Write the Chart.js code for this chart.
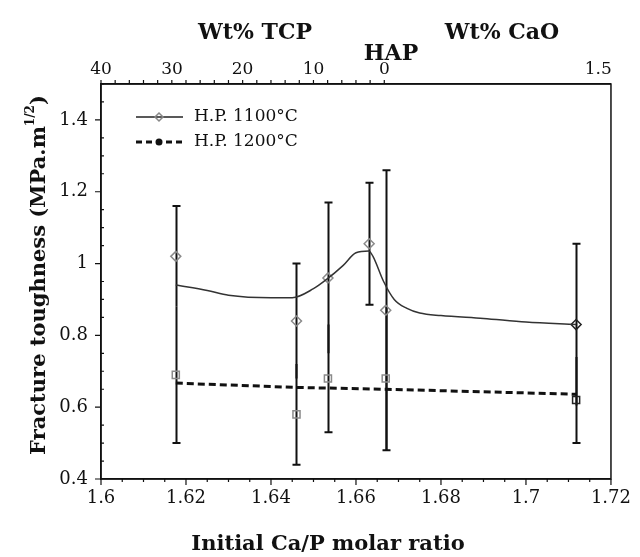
<!DOCTYPE html>
<html>
<head>
<meta charset="utf-8">
<script src="https://cdn.jsdelivr.net/npm/chart.js@4.4.1/dist/chart.umd.min.js"></script>
<style>
  html, body { margin: 0; padding: 0; background: #ffffff; }
  #wrap { width: 640px; height: 557px; }
</style>
</head>
<body>
<div id="wrap"><canvas id="chart" width="640" height="557"></canvas></div>
<script>
'use strict';

// measured points, H.P. 1100 C
var x1100 = [1.6176, 1.646, 1.6534, 1.6631, 1.667, 1.7118];
var y1100 = [1.02, 0.84, 0.96, 1.055, 0.87, 0.83];
var err1100 = [0.14, 0.16, 0.21, 0.17, 0.39, 0.225];

// measured points, H.P. 1200 C
var x1200 = [1.6176, 1.646, 1.6534, 1.667, 1.7118];
var y1200 = [0.69, 0.58, 0.68, 0.68, 0.62];
var err1200 = [0.19, 0.14, 0.15, 0.2, 0.12];

// trend curves
var fit1100X = [1.6176, 1.625, 1.63, 1.64, 1.645, 1.65, 1.653, 1.657, 1.66, 1.663, 1.664, 1.6665, 1.669, 1.672, 1.675, 1.68, 1.69, 1.70, 1.7118];
var fit1100Y = [0.94, 0.925, 0.912, 0.905, 0.905, 0.93, 0.955, 0.995, 1.03, 1.035, 1.02, 0.95, 0.9, 0.875, 0.862, 0.855, 0.847, 0.837, 0.83];
var fit1200X = [1.6176, 1.646, 1.667, 1.7118];
var fit1200Y = [0.667, 0.655, 0.65, 0.636];

// axes
var xTickValues = [1.6, 1.62, 1.64, 1.66, 1.68, 1.7, 1.72];
var yTickValues = [0.4, 0.6, 0.8, 1, 1.2, 1.4];
var topTickValues = [1.6, 1.6167, 1.6333, 1.65, 1.6667, 1.717];
var topTickLabels = ['40', '30', '20', '10', '0', '1.5'];
var topMinorFrom = 1.6, topMinorTo = 1.6667, topMinorStep = 0.003333;

var INK = '#111111';
var SERIF = '"DejaVu Serif", "Liberation Serif", serif';

function pts(xs, ys) {
  return xs.map(function (x, i) { return { x: x, y: ys[i] }; });
}

function fmt(v) {
  return String(Number(v.toFixed(4)));
}

var decorPlugin = {
  id: 'decor',
  beforeDatasetsDraw: function (chart) {
    var c = chart.ctx, sx = chart.scales.x, sy = chart.scales.y;
    c.save();
    c.strokeStyle = INK;
    c.lineWidth = 2;
    function cap(px, py) { c.moveTo(px - 4, py); c.lineTo(px + 4, py); }
    // 1100 bars: cap on top, bottom cap only where no 1200 bar shares the x
    x1100.forEach(function (x, i) {
      var px = Math.round(sx.getPixelForValue(x)) + 0.5;
      var top = sy.getPixelForValue(y1100[i] + err1100[i]);
      var bot = sy.getPixelForValue(y1100[i] - err1100[i]);
      c.beginPath();
      c.moveTo(px, top); c.lineTo(px, bot);
      cap(px, top);
      if (x1200.indexOf(x) < 0) cap(px, bot);
      c.stroke();
    });
    x1200.forEach(function (x, i) {
      var px = Math.round(sx.getPixelForValue(x)) + 0.5;
      var top = sy.getPixelForValue(y1200[i] + err1200[i]);
      var bot = sy.getPixelForValue(y1200[i] - err1200[i]);
      c.beginPath();
      c.moveTo(px, top); c.lineTo(px, bot);
      cap(px, bot);
      if (x1100.indexOf(x) < 0) cap(px, top);
      c.stroke();
    });
    c.restore();
  },
  afterDraw: function (chart) {
    var c = chart.ctx, a = chart.chartArea;
    var sx = chart.scales.x, sy = chart.scales.y;
    c.save();
    c.strokeStyle = INK;
    c.lineWidth = 1.5;
    c.strokeRect(a.left, a.top, a.right - a.left, a.bottom - a.top);

    // bottom ticks
    c.lineWidth = 1.2;
    c.beginPath();
    for (var v = 1.6; v <= 1.7201; v += 0.005) {
      var px = sx.getPixelForValue(v);
      var major = Math.abs(v * 50 - Math.round(v * 50)) < 0.01;
      c.moveTo(px, a.bottom); c.lineTo(px, a.bottom + (major ? 6 : 3));
    }
    // left ticks
    for (var w = 0.4; w <= 1.5001; w += 0.05) {
      var py = sy.getPixelForValue(w);
      var maj = Math.abs(w * 5 - Math.round(w * 5)) < 0.01;
      if (maj) { c.moveTo(a.left, py); c.lineTo(a.left - 6, py); }
      else { c.moveTo(a.left, py); c.lineTo(a.left + 3, py); }
    }
    // top ticks (wt% TCP)
    for (var t = topMinorFrom; t <= topMinorTo + 0.0001; t += topMinorStep) {
      var tx = sx.getPixelForValue(t);
      c.moveTo(tx, a.top); c.lineTo(tx, a.top - 4);
    }
    c.stroke();

    // legend
    c.lineWidth = 1.5;
    c.strokeStyle = '#222';
    c.beginPath(); c.moveTo(136, 117); c.lineTo(183, 117); c.stroke();
    c.strokeStyle = '#888';
    c.beginPath();
    c.moveTo(159, 113); c.lineTo(163, 117); c.lineTo(159, 121); c.lineTo(155, 117); c.closePath();
    c.stroke();
    c.strokeStyle = INK;
    c.lineWidth = 3;
    c.setLineDash([6, 4]);
    c.beginPath(); c.moveTo(136, 142); c.lineTo(185, 142); c.stroke();
    c.setLineDash([]);
    c.fillStyle = INK;
    c.beginPath(); c.arc(159, 142, 3.5, 0, Math.PI * 2); c.fill();

    c.fillStyle = INK;
    c.font = '17px ' + SERIF;
    c.textAlign = 'left';
    c.textBaseline = 'middle';
    c.fillText('H.P. 1100\u00b0C', 194, 117);
    c.fillText('H.P. 1200\u00b0C', 194, 142);

    // titles
    c.font = 'bold 22px ' + SERIF;
    c.textAlign = 'center';
    c.textBaseline = 'middle';
    c.fillText('Wt% TCP', 255, 33);
    c.fillText('Wt% CaO', 502, 33);
    c.fillText('HAP', 391, 54);
    c.font = 'bold 21px ' + SERIF;
    c.fillText('Initial Ca/P molar ratio', 328, 545);

    // y title with superscript
    c.translate(40, 275);
    c.rotate(-Math.PI / 2);
    var main = 'Fracture toughness (MPa.m';
    c.font = 'bold 21px ' + SERIF;
    var w1 = c.measureText(main).width;
    c.font = 'bold 12px ' + SERIF;
    var w2 = c.measureText('1/2').width;
    c.font = 'bold 21px ' + SERIF;
    var w3 = c.measureText(')').width;
    var x0 = -(w1 + w2 + w3) / 2;
    c.textAlign = 'left';
    c.fillText(main, x0, 0);
    c.font = 'bold 12px ' + SERIF;
    c.fillText('1/2', x0 + w1, -9);
    c.font = 'bold 21px ' + SERIF;
    c.fillText(')', x0 + w1 + w2, 0);
    c.restore();
  }
};

var markerColor = function (ctx) {
  return ctx.dataIndex === ctx.dataset.data.length - 1 ? '#222' : '#8a8a8a';
};

new Chart(document.getElementById('chart').getContext('2d'), {
  type: 'scatter',
  data: {
    datasets: [
      {
        label: 'H.P. 1100\u00b0C fit',
        data: pts(fit1100X, fit1100Y),
        showLine: true,
        borderColor: '#333',
        borderWidth: 1.5,
        pointRadius: 0,
        cubicInterpolationMode: 'monotone'
      },
      {
        label: 'H.P. 1200\u00b0C fit',
        data: pts(fit1200X, fit1200Y),
        showLine: true,
        borderColor: INK,
        borderWidth: 3,
        borderDash: [7, 4],
        pointRadius: 0
      },
      {
        label: 'H.P. 1100\u00b0C',
        data: pts(x1100, y1100),
        pointStyle: 'rectRot',
        pointRadius: 5,
        pointBorderWidth: 1.5,
        pointBorderColor: markerColor,
        pointBackgroundColor: 'rgba(0,0,0,0)'
      },
      {
        label: 'H.P. 1200\u00b0C',
        data: pts(x1200, y1200),
        pointStyle: 'rect',
        pointRadius: 5,
        pointBorderWidth: 1.5,
        pointBorderColor: markerColor,
        pointBackgroundColor: 'rgba(0,0,0,0)'
      }
    ]
  },
  options: {
    responsive: false,
    animation: false,
    devicePixelRatio: 1,
    layout: { padding: { top: 0, right: 23, bottom: 0, left: 0 } },
    plugins: {
      legend: { display: false },
      tooltip: { enabled: false }
    },
    scales: {
      x: {
        type: 'linear',
        position: 'bottom',
        min: 1.6,
        max: 1.72,
        afterBuildTicks: function (s) { s.ticks = xTickValues.map(function (v) { return { value: v }; }); },
        afterFit: function (s) { s.height = 78; },
        grid: { display: false, drawTicks: false },
        border: { display: true, color: INK, width: 1.5 },
        ticks: {
          color: INK,
          padding: 9,
          maxRotation: 0,
          font: { family: SERIF, size: 18 },
          callback: function (v) { return fmt(v); }
        }
      },
      x2: {
        type: 'linear',
        position: 'top',
        min: 1.6,
        max: 1.72,
        afterBuildTicks: function (s) { s.ticks = topTickValues.map(function (v) { return { value: v }; }); },
        afterFit: function (s) { s.height = 84; },
        grid: { display: false, drawTicks: false },
        border: { display: true, color: INK, width: 1.5 },
        ticks: {
          color: INK,
          padding: 4,
          maxRotation: 0,
          font: { family: SERIF, size: 17 },
          callback: function (v, i) { return topTickLabels[i]; }
        }
      },
      y: {
        type: 'linear',
        min: 0.4,
        max: 1.5,
        afterBuildTicks: function (s) { s.ticks = yTickValues.map(function (v) { return { value: v }; }); },
        afterFit: function (s) { s.width = 101; },
        grid: { display: false, drawTicks: false },
        border: { display: true, color: INK, width: 1.5 },
        ticks: {
          color: INK,
          padding: 13,
          font: { family: SERIF, size: 18 },
          callback: function (v) { return fmt(v); }
        }
      }
    }
  },
  plugins: [decorPlugin]
});
</script>
</body>
</html>
